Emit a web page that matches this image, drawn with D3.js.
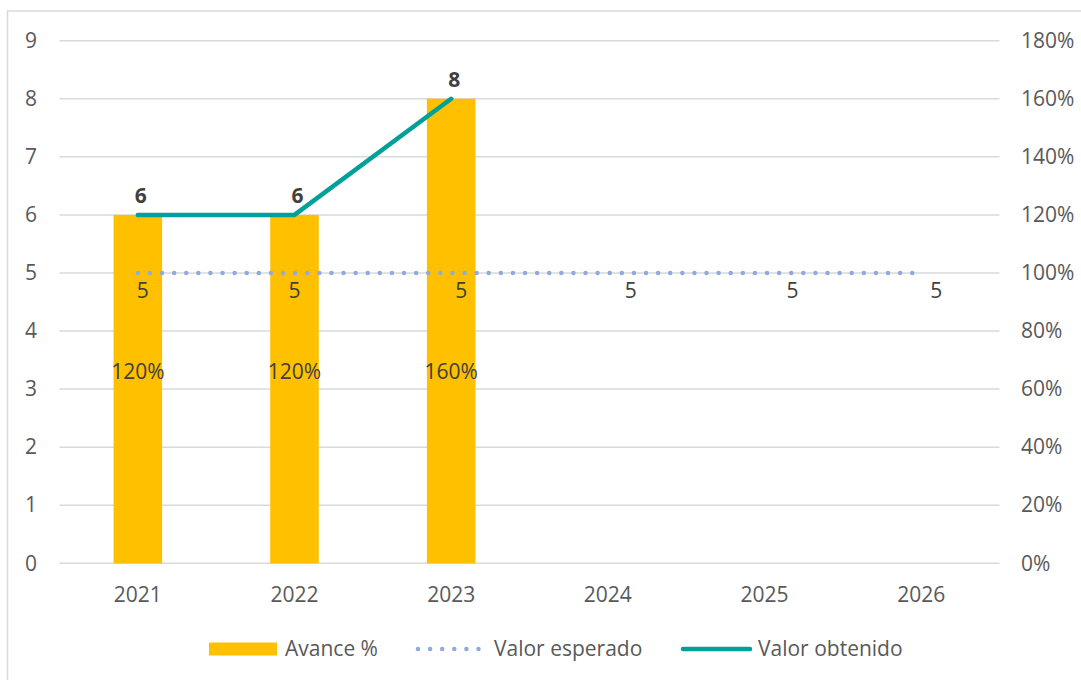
<!DOCTYPE html>
<html>
<head>
<meta charset="utf-8">
<script src="https://cdn.jsdelivr.net/npm/d3@7"></script>
<style>
  body { margin: 0; background: #fff; }
  svg { display: block; font-family: "Open Sans", sans-serif; }
</style>
</head>
<body>
<div id="vis"></div>
<script>
// data
const years = ["2021", "2022", "2023", "2024", "2025", "2026"];
const avance = [1.2, 1.2, 1.6, null, null, null];       // bars, right axis
const esperado = [5, 5, 5, 5, 5, 5];                       // dotted line
const obtenido = [6, 6, 8, null, null, null];              // teal line
const leftTicks = [0, 1, 2, 3, 4, 5, 6, 7, 8, 9];
const rightTicks = [0, 0.2, 0.4, 0.6, 0.8, 1, 1.2, 1.4, 1.6, 1.8];

// small horizontal nudges for the "5" labels, like excel placed them
const esperadoNudge = [5, 0, 10, 23, 28, 15];

const width = 1081;
const height = 680;
const margin = { top: 40.7, right: 81.5, bottom: 116.7, left: 59.5 };
const fontSize = "21px";

const svg = d3.select("#vis")
  .append("svg")
  .attr("width", width)
  .attr("height", height);

// outer chart frame
svg.append("rect")
  .attr("x", 7.5)
  .attr("y", 11)
  .attr("width", 1090)
  .attr("height", 700)
  .attr("fill", "none")
  .attr("stroke", "#d9d9d9")
  .attr("stroke-width", 1.5);

const x = d3.scaleBand()
  .domain(years)
  .range([margin.left, width - margin.right]);

const yLeft = d3.scaleLinear()
  .domain([0, 9])
  .range([height - margin.bottom, margin.top]);

const yRight = d3.scaleLinear()
  .domain([0, 1.8])
  .range([height - margin.bottom, margin.top]);

const cx = d => x(d) + x.bandwidth() / 2;

// gridlines
svg.append("g")
  .selectAll("line")
  .data(leftTicks)
  .enter()
  .append("line")
  .attr("x1", margin.left)
  .attr("x2", width - margin.right)
  .attr("y1", d => yLeft(d))
  .attr("y2", d => yLeft(d))
  .attr("stroke", "#d9d9d9")
  .attr("stroke-width", 1.5);

// left axis
const leftAxis = svg.append("g")
  .attr("transform", "translate(37,0)")
  .call(d3.axisLeft(yLeft).tickValues(leftTicks).tickSize(0).tickPadding(0).tickFormat(d3.format("d")));
leftAxis.select(".domain").remove();

// right axis
const rightAxis = svg.append("g")
  .attr("transform", "translate(1021,0)")
  .call(d3.axisRight(yRight).tickValues(rightTicks).tickSize(0).tickPadding(0).tickFormat(d3.format(".0%")));
rightAxis.select(".domain").remove();

// bottom axis
const bottomAxis = svg.append("g")
  .attr("transform", `translate(0,${height - margin.bottom})`)
  .call(d3.axisBottom(x).tickSize(0).tickPadding(24));
bottomAxis.select(".domain").remove();

svg.selectAll(".tick text")
  .attr("fill", "#595959")
  .style("font-size", fontSize)
  .style("font-family", "Open Sans, sans-serif");

// bars (Avance %)
const barW = x.bandwidth() * 0.31;
const barData = years.map((y, i) => ({ year: y, v: avance[i] })).filter(d => d.v != null);

svg.append("g")
  .selectAll("rect")
  .data(barData)
  .enter()
  .append("rect")
  .attr("x", d => cx(d.year) - barW / 2)
  .attr("width", barW)
  .attr("y", d => yRight(d.v))
  .attr("height", d => yRight(0) - yRight(d.v))
  .attr("fill", "#ffc000");

svg.append("g")
  .selectAll("text")
  .data(barData)
  .enter()
  .append("text")
  .attr("x", d => cx(d.year))
  .attr("y", yLeft(3.3))
  .attr("dy", "0.35em")
  .attr("text-anchor", "middle")
  .attr("fill", "#404040")
  .style("font-size", fontSize)
  .text(d => d3.format(".0%")(d.v));

// dotted line (Valor esperado)
const espData = years.map((y, i) => ({ year: y, v: esperado[i], nudge: esperadoNudge[i] }));

svg.append("path")
  .datum(espData)
  .attr("fill", "none")
  .attr("stroke", "#8faadc")
  .attr("stroke-width", 4.5)
  .attr("stroke-linecap", "round")
  .attr("stroke-dasharray", "0 12.1")
  .attr("d", d3.line().x(d => cx(d.year)).y(d => yLeft(d.v)));

svg.append("g")
  .selectAll("text")
  .data(espData)
  .enter()
  .append("text")
  .attr("x", d => cx(d.year) + d.nudge)
  .attr("y", d => yLeft(d.v) + 25)
  .attr("text-anchor", "middle")
  .attr("fill", "#404040")
  .style("font-size", fontSize)
  .text(d => d.v);

// teal line (Valor obtenido)
const obtData = years.map((y, i) => ({ year: y, v: obtenido[i] })).filter(d => d.v != null);

svg.append("path")
  .datum(obtData)
  .attr("fill", "none")
  .attr("stroke", "#00a09a")
  .attr("stroke-width", 4.5)
  .attr("stroke-linecap", "round")
  .attr("stroke-linejoin", "round")
  .attr("d", d3.line().x(d => cx(d.year)).y(d => yLeft(d.v)));

svg.append("g")
  .selectAll("text")
  .data(obtData)
  .enter()
  .append("text")
  .attr("x", d => cx(d.year) + 3)
  .attr("y", d => yLeft(d.v) - 12)
  .attr("text-anchor", "middle")
  .attr("fill", "#404040")
  .style("font-size", fontSize)
  .style("font-weight", "bold")
  .text(d => d.v);

// legend
const legend = svg.append("g").attr("transform", "translate(0,649)");

legend.append("rect")
  .attr("x", 209).attr("y", -6.5)
  .attr("width", 68).attr("height", 13)
  .attr("fill", "#ffc000");
legend.append("text").attr("x", 285).attr("dy", "0.35em").text("Avance %");

legend.append("line")
  .attr("x1", 418).attr("x2", 488)
  .attr("stroke", "#8faadc")
  .attr("stroke-width", 4.5)
  .attr("stroke-linecap", "round")
  .attr("stroke-dasharray", "0 12.1");
legend.append("text").attr("x", 494).attr("dy", "0.35em").text("Valor esperado");

legend.append("line")
  .attr("x1", 683).attr("x2", 750)
  .attr("stroke", "#00a09a")
  .attr("stroke-width", 4.5)
  .attr("stroke-linecap", "round");
legend.append("text").attr("x", 758).attr("dy", "0.35em").text("Valor obtenido");

legend.selectAll("text")
  .attr("fill", "#595959")
  .style("font-size", fontSize);
</script>
</body>
</html>
